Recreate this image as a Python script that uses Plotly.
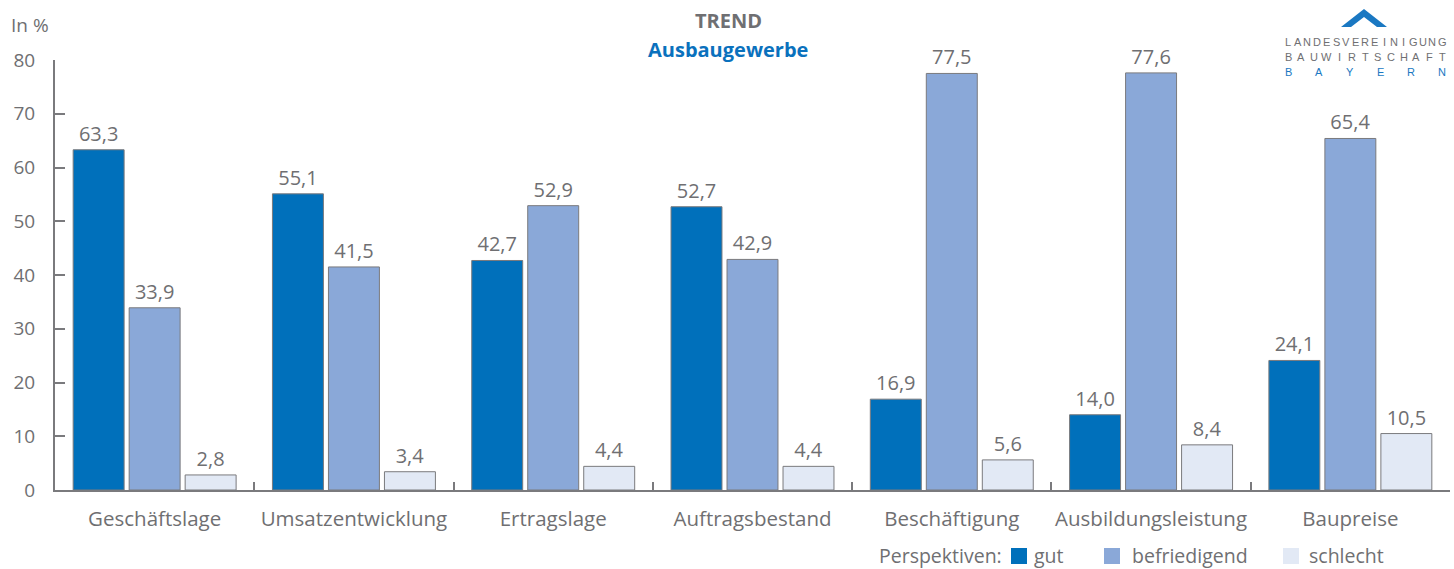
import plotly.graph_objects as go

categories = ["Geschäftslage", "Umsatzentwicklung", "Ertragslage", "Auftragsbestand",
              "Beschäftigung", "Ausbildungsleistung", "Baupreise"]
gut = [63.3, 55.1, 42.7, 52.7, 16.9, 14.0, 24.1]
befriedigend = [33.9, 41.5, 52.9, 42.9, 77.5, 77.6, 65.4]
schlecht = [2.8, 3.4, 4.4, 4.4, 5.6, 8.4, 10.5]
y_ticks = [0, 10, 20, 30, 40, 50, 60, 70, 80]
legend_title = "Perspektiven:"

GRAY = "#6f6f72"
LINE = "#7a7a7d"
FONT = "Open Sans"
W, H = 1454, 569
L, R, T, B = 55, 4, 60, 79

def fmt(v):
    return f"{v:.1f}".replace(".", ",")

series = [("gut", gut, "#0070bb"), ("befriedigend", befriedigend, "#8aa8d8"),
          ("schlecht", schlecht, "#e2e9f5")]

fig = go.Figure()
for name, vals, col in series:
    fig.add_trace(go.Bar(
        x=categories, y=vals, name=name,
        marker=dict(color=col, line=dict(color=LINE, width=1)),
        text=[fmt(v) for v in vals], textposition="outside",
        textfont=dict(family=FONT, size=20, color=GRAY),
        cliponaxis=False, showlegend=False,
    ))

# helpers for pixel -> paper
pw = W - L - R
ph = H - T - B
def px(x):
    return (x - L) / pw
def py(y):
    return (H - B - y) / ph

def note(text, x, y, size, color, xanchor="center", family=FONT, pad=1):
    return dict(text=text, x=px(x), y=py(y), xref="paper", yref="paper",
                xanchor=xanchor, yanchor="middle", showarrow=False, borderpad=pad,
                font=dict(family=family, size=size, color=color))

annotations = [
    note("In %", 9, 25, 19, GRAY, "left"),
    note("<b>TREND</b>", 728, 20, 20, GRAY),
    note("<b>Ausbaugewerbe</b>", 728, 50, 20, "#0a71bd"),
]
shapes = []

# manual legend (bottom right)
LEG_Y = 556
annotations.append(note(legend_title, 1003, LEG_Y - 1, 19.5, GRAY, "right", pad=0))
leg_pos = [(1011, 1033), (1104, 1131), (1283, 1308)]
for (name, vals, col), (sx, tx) in zip(series, leg_pos):
    shapes.append(dict(type="rect", xref="paper", yref="paper",
                       x0=px(sx), x1=px(sx + 16), y0=py(LEG_Y - 8), y1=py(LEG_Y + 8),
                       fillcolor=col, line=dict(width=0)))
    annotations.append(note(name, tx, LEG_Y - 1, 19.5, GRAY, "left", pad=0))

# logo letters
logo_lines = [("LANDESVEREINIGUNG", 42, "#6f6f72"), ("BAUWIRTSCHAFT", 57, "#6f6f72"),
              ("BAYERN", 72, "#1a78c2")]
for word, yy, col in logo_lines:
    for i, ch in enumerate(word):
        x = 1288 + i * (1442 - 1288) / (len(word) - 1)
        annotations.append(note(ch, x, yy, 11, col, "center", "Liberation Sans"))

# chevron of logo
pts = [(1341, 27), (1364, 9), (1387, 27), (1377, 27), (1364, 17), (1351, 27)]
path = "M " + " L ".join(f"{px(a)},{py(b)}" for a, b in pts) + " Z"
shapes.append(dict(type="path", path=path, xref="paper", yref="paper",
                   fillcolor="#1a78c2", line=dict(width=0)))

fig.update_layout(
    width=W, height=H,
    margin=dict(l=L, r=R, t=T, b=B, autoexpand=False),
    plot_bgcolor="white", paper_bgcolor="white",
    barmode="group", bargap=0.157, bargroupgap=0.09,
    font=dict(family=FONT, color=GRAY),
    xaxis=dict(showline=True, linecolor=LINE, linewidth=2, ticks="inside",
               tickson="boundaries", ticklen=8, tickwidth=2, tickcolor=LINE,
               tickfont=dict(family=FONT, size=20.5, color=GRAY), showgrid=False,
               tickangle=0, ticklabelstandoff=9, automargin=False),
    yaxis=dict(range=[0, 80], tickvals=y_ticks, showline=True, linecolor=LINE,
               linewidth=2, ticks="inside", ticklen=10, tickwidth=2, tickcolor=LINE,
               tickfont=dict(family=FONT, size=19, color=GRAY), showgrid=False,
               zeroline=False, ticklabelstandoff=14, automargin=False),
    annotations=annotations,
    shapes=shapes,
    showlegend=False,
)

fig.write_html("out.html", config={"displayModeBar": False},
               post_script="document.body.style.margin='0';document.body.style.padding='0';"
                           "document.body.style.overflow='hidden';")
